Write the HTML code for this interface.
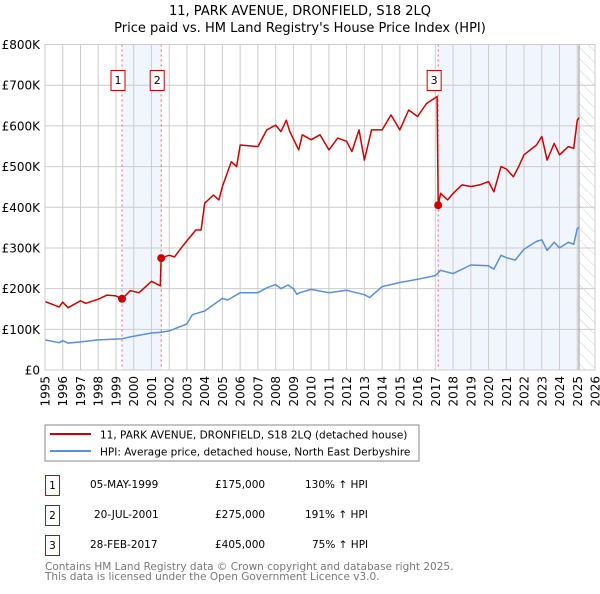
<!DOCTYPE html>
<html><head><meta charset="utf-8"><style>
body{margin:0;background:#fff;font-family:"DejaVu Sans","Liberation Sans",sans-serif;}
svg text{font-family:"DejaVu Sans","Liberation Sans",sans-serif;}
</style></head><body>
<svg id="c" width="600" height="590" xmlns="http://www.w3.org/2000/svg">
<defs><pattern id="hatch" width="8" height="8" patternUnits="userSpaceOnUse" patternTransform="rotate(-45)"><line x1="0" y1="0" x2="0" y2="8" stroke="#ccc" stroke-width="1"/></pattern></defs>
<text x="300" y="15" text-anchor="middle" font-size="13">11, PARK AVENUE, DRONFIELD, S18 2LQ</text>
<text x="300" y="32" text-anchor="middle" font-size="13">Price paid vs. HM Land Registry's House Price Index (HPI)</text>
<g id="plot"></g>
<rect x="45" y="425" width="374" height="36" fill="#fff" stroke="#888"/>
<line x1="50" y1="434" x2="91" y2="434" stroke="#cc0000" stroke-width="2"/>
<text x="100" y="438.5" font-size="10.5">11, PARK AVENUE, DRONFIELD, S18 2LQ (detached house)</text>
<line x1="50" y1="451" x2="91" y2="451" stroke="#5b8fd6" stroke-width="2"/>
<text x="100" y="455.5" font-size="10.5">HPI: Average price, detached house, North East Derbyshire</text>
<g font-size="10.5">
<rect x="45.5" y="475.5" width="14" height="20" fill="#fff" stroke="#cc0000"/><text x="52.5" y="489" text-anchor="middle">1</text>
<text x="90" y="488">05-MAY-1999</text><text x="215" y="488">£175,000</text><text x="305" y="488">130% ↑ HPI</text>
<rect x="45.5" y="505.5" width="14" height="20" fill="#fff" stroke="#cc0000"/><text x="52.5" y="519" text-anchor="middle">2</text>
<text x="94" y="518">20-JUL-2001</text><text x="215" y="518">£275,000</text><text x="305" y="518">191% ↑ HPI</text>
<rect x="45.5" y="535.5" width="14" height="20" fill="#fff" stroke="#cc0000"/><text x="52.5" y="549" text-anchor="middle">3</text>
<text x="90" y="548">28-FEB-2017</text><text x="215" y="548">£405,000</text><text x="312" y="548">75% ↑ HPI</text>
</g>
<text x="45" y="570" font-size="10.5" fill="#777">Contains HM Land Registry data © Crown copyright and database right 2025.</text>
<text x="45" y="580" font-size="10.5" fill="#777">This data is licensed under the Open Government Licence v3.0.</text>
</svg>
<script>
const hpiYears=[1995,1995.8,1996,1996.3,1997,1998,1999,1999.35,2000,2001,2001.55,2002,2003,2003.3,2004,2005,2005.3,2006,2007,2007.5,2008,2008.3,2008.7,2009,2009.2,2009.35,2010,2011,2012,2013,2013.3,2014,2015,2016,2017,2017.3,2018,2019,2020,2020.3,2020.7,2021,2021.5,2022,2022.7,2023,2023.3,2023.7,2024,2024.5,2024.8,2025,2025.1];
const hpiValues=[74,67,72,66,69,74,76,77,83,91,93,96,113,136,145,176,172,190,190,202,210,200,209,200,186,190,198,190,196,185,178,205,215,223,232,245,237,258,256,248,282,276,270,297,316,320,294,314,300,314,309,348,350];
const priceYears=[1995,1995.8,1996,1996.3,1997,1997.3,1998,1998.5,1999,1999.35,1999.8,2000.3,2001,2001.5,2001.55,2002,2002.3,2002.8,2003.5,2003.8,2004,2004.5,2004.8,2005,2005.5,2005.8,2006,2007,2007.5,2008,2008.3,2008.6,2008.8,2009.3,2009.5,2010,2010.5,2011,2011.5,2012,2012.3,2012.7,2013,2013.4,2014,2014.5,2015,2015.5,2016,2016.5,2017.1,2017.16,2017.3,2017.7,2018,2018.5,2019,2019.5,2020,2020.3,2020.7,2021,2021.4,2021.7,2022,2022.7,2023,2023.3,2023.7,2024,2024.5,2024.8,2025,2025.1];
const priceValues=[168,155,167,153,170,164,174,184,182,175,195,190,218,207,276,282,278,307,344,344,410,430,418,451,512,500,553,549,590,602,586,614,586,541,578,566,578,541,570,562,537,590,516,590,590,627,590,639,623,655,672,405,434,418,434,455,451,455,463,438,500,494,475,500,529,553,574,516,557,529,549,545,614,620];
const saleYears=[1999.34,2001.55,2017.16];
const saleValues=[175,275,405];
const saleLabels=["1","2","3"];
const yTicks=[0,100,200,300,400,500,600,700,800];
const yTickLabels=["£0","£100K","£200K","£300K","£400K","£500K","£600K","£700K","£800K"];
const xTicks=[1995,1996,1997,1998,1999,2000,2001,2002,2003,2004,2005,2006,2007,2008,2009,2010,2011,2012,2013,2014,2015,2016,2017,2018,2019,2020,2021,2022,2023,2024,2025,2026];
const dataEndYear=2025.1;

const L=45,R=595,T=44.5,B=370;
const X=y=>L+(y-1995)/(2026-1995)*(R-L);
const Y=v=>B-v/800*(B-T);
const NS="http://www.w3.org/2000/svg";
const g=document.getElementById('plot');
function mk(tag,attrs,parent){const e=document.createElementNS(NS,tag);for(const k in attrs)e.setAttribute(k,attrs[k]);(parent||g).appendChild(e);return e;}

let e;
e=mk('rect',{x:L,y:T,width:R-L,height:B-T,fill:'#fff'});


e=mk('rect',{x:X(saleYears[0]),y:T,width:X(saleYears[1])-X(saleYears[0]),height:B-T,fill:'#eef3fc',opacity:0.8});


e=mk('rect',{x:X(saleYears[2]),y:T,width:X(dataEndYear)-X(saleYears[2]),height:B-T,fill:'#eef3fc',opacity:0.8});


e=mk('rect',{x:X(dataEndYear),y:T,width:R-X(dataEndYear),height:B-T,fill:'url(#hatch)'});



xTicks.forEach(yr=>{
  const l=mk('line',{x1:X(yr),x2:X(yr),y1:T,y2:B,stroke:'#ccc','stroke-width':1});
  
  
  const t=mk('text',{x:0,y:0,'font-size':12,'text-anchor':'end',transform:`translate(${X(yr)+4.5},${B+6}) rotate(-90)`});
  t.textContent=yr;
  
  
});
yTicks.forEach((v,i)=>{
  const l=mk('line',{x1:L,x2:R,y1:Y(v),y2:Y(v),stroke:'#ccc','stroke-width':1});
  
  
  const t=mk('text',{x:40,y:Y(v)+4.5,'font-size':12,'text-anchor':'end'});
  t.textContent=yTickLabels[i];
  
  
});
e=mk('line',{x1:X(dataEndYear),x2:X(dataEndYear),y1:T,y2:B,stroke:'#999','stroke-width':1});



saleYears.forEach((yr,i)=>{
  const l=mk('line',{x1:X(yr),x2:X(yr),y1:T,y2:B,stroke:'#f06060','stroke-width':1,'stroke-dasharray':'2,3'});
  
  
});

function path(xs,vs){return xs.map((x,i)=>(i?'L':'M')+X(x).toFixed(1)+','+Y(vs[i]).toFixed(1)).join(' ');}
e=mk('path',{d:path(hpiYears,hpiValues),fill:'none',stroke:'#5b8fd6','stroke-width':1.5,'stroke-linejoin':'round'});


e=mk('path',{d:path(priceYears,priceValues),fill:'none',stroke:'#cc0000','stroke-width':1.5,'stroke-linejoin':'round'});



saleYears.forEach((yr,i)=>{
  const c=mk('circle',{cx:X(yr),cy:Y(saleValues[i]),r:4,fill:'#cc0000'});
  
  
  const r=mk('rect',{x:X(yr)-11,y:70.5,width:14,height:20,fill:'#fff',stroke:'#cc0000'});
  
  
  const t=mk('text',{x:X(yr)-4,y:84,'font-size':11,'text-anchor':'middle'});
  t.textContent=saleLabels[i];
  
  
});
e=mk('rect',{x:L,y:T,width:R-L,height:B-T,fill:'none',stroke:'#ccc'});


</script>
</body></html>
